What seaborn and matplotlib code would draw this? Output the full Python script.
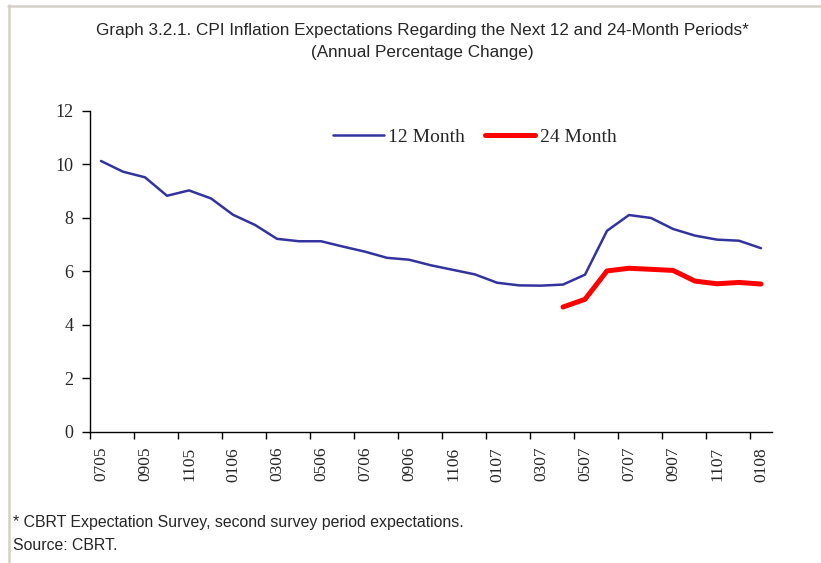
import matplotlib
matplotlib.use("Agg")
import matplotlib.pyplot as plt
import seaborn as sns
import pandas as pd
import numpy as np
from matplotlib.lines import Line2D
from matplotlib.ticker import FixedLocator, FixedFormatter

# ---- data ----
months = ["0705", "0805", "0905", "1005", "1105", "1205",
          "0106", "0206", "0306", "0406", "0506", "0606",
          "0706", "0806", "0906", "1006", "1106", "1206",
          "0107", "0207", "0307", "0407", "0507", "0607",
          "0707", "0807", "0907", "1007", "1107", "1207", "0108"]
m12 = [10.12, 9.72, 9.51, 8.82, 9.02, 8.72, 8.11, 7.73, 7.21, 7.12, 7.12,
       6.92, 6.73, 6.50, 6.43, 6.22, 6.05, 5.88, 5.57, 5.47, 5.46, 5.50,
       5.87, 7.51, 8.10, 7.99, 7.58, 7.33, 7.18, 7.14, 6.86]
m24 = [None] * 21 + [4.66, 4.95, 6.01, 6.11, 6.07, 6.03, 5.63, 5.53, 5.58, 5.52]
yticks = [0, 2, 4, 6, 8, 10, 12]

sns.set_style("white")
plt.rcParams["font.family"] = ["Liberation Serif", "DejaVu Serif"]

idx = np.arange(len(months))
df12 = pd.DataFrame({"i": idx, "v": m12})
df24 = pd.DataFrame({"i": idx, "v": pd.array(m24, dtype="Float64")}).dropna()
df24["v"] = df24["v"].astype(float)

fig = plt.figure(figsize=(8.21, 5.63), dpi=100)
ax = fig.add_axes([90 / 821, 1 - 431.7 / 563, (772 - 90) / 821, (431.7 - 110.7) / 563])

sns.lineplot(data=df12, x="i", y="v", ax=ax, color="#3333A0", linewidth=1.8,
             label="12 Month")
sns.lineplot(data=df24, x="i", y="v", ax=ax, color="#FF0000", linewidth=3.6,
             label="24 Month")

ax.set_xlim(-0.5, len(months) - 0.5)
ax.set_ylim(0, 12)
ax.set_xlabel("")
ax.set_ylabel("")

# x ticks: labels at every other category, tick marks on boundaries
lab_pos = idx[::2]
ax.xaxis.set_major_locator(FixedLocator(lab_pos))
ax.xaxis.set_major_formatter(FixedFormatter([months[i] for i in lab_pos]))
ax.xaxis.set_minor_locator(FixedLocator(np.arange(-0.5, len(months) - 1, 2)))
ax.tick_params(axis="x", which="major", length=0, pad=11, labelsize=12.5,
               labelrotation=90)
ax.tick_params(axis="x", which="minor", length=5, width=1, color="black",
               direction="out", bottom=True)
ax.set_yticks(yticks)
ax.set_yticklabels([str(t) for t in yticks])
ax.tick_params(axis="y", length=6, width=1, color="black", direction="out",
               left=True, labelsize=13, pad=6)

for s in ["top", "right"]:
    ax.spines[s].set_visible(False)
for s in ["left", "bottom"]:
    ax.spines[s].set_color("black")
    ax.spines[s].set_linewidth(1.0)

ax.legend(loc="center", bbox_to_anchor=(475 / 821, 1 - 137 / 563),
          bbox_transform=fig.transFigure, ncol=2, frameon=False,
          fontsize=14, handlelength=2.6, handletextpad=0.25,
          columnspacing=1.0)

sans = ["Liberation Sans Narrow", "Liberation Sans", "DejaVu Sans"]
fig.text(422 / 821, 1 - 31 / 563,
         "Graph 3.2.1. CPI Inflation Expectations Regarding the Next 12 and 24-Month Periods*",
         ha="center", va="center", fontsize=12.3, family=sans)
fig.text(422 / 821, 1 - 53 / 563, "(Annual Percentage Change)",
         ha="center", va="center", fontsize=12.3, family=sans)
fig.text(13 / 821, 1 - 522 / 563,
         "* CBRT Expectation Survey, second survey period expectations.",
         ha="left", va="center", fontsize=11.4, family=sans)
fig.text(13 / 821, 1 - 546 / 563, "Source: CBRT.",
         ha="left", va="center", fontsize=11.4, family=sans)

# light frame at top and left
fig.add_artist(Line2D([9 / 821, 9 / 821], [0, 1 - 5 / 563],
                      transform=fig.transFigure, color="#D4D0C8", lw=1.8))
fig.add_artist(Line2D([8 / 821, 1], [1 - 6 / 563, 1 - 6 / 563],
                      transform=fig.transFigure, color="#D4D0C8", lw=1.8))

fig.savefig("out.png", dpi=100)
